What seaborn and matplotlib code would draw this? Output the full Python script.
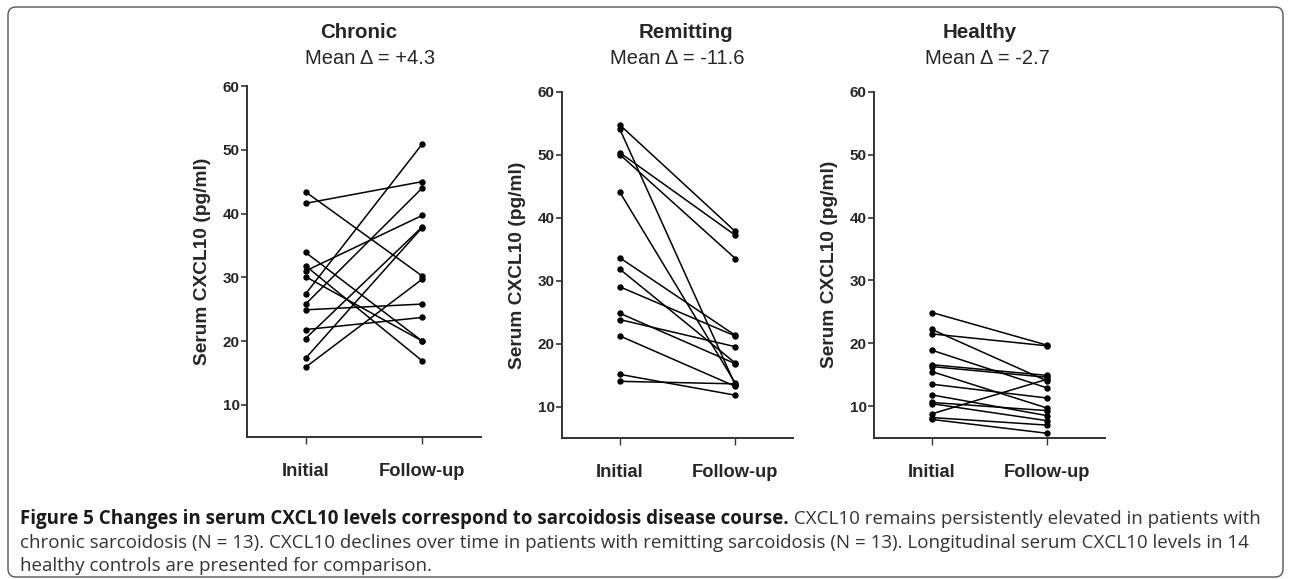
import matplotlib
matplotlib.use("Agg")
import matplotlib.pyplot as plt
from matplotlib.patches import FancyBboxPatch
import seaborn as sns
import pandas as pd

# ---------------- data ----------------
timepoints = ["Initial", "Follow-up"]
groups = ["Chronic", "Remitting", "Healthy"]
mean_deltas = ["Mean \u0394 = +4.3", "Mean \u0394 = -11.6", "Mean \u0394 = -2.7"]
y_ticks = [10, 20, 30, 40, 50, 60]
y_label = "Serum CXCL10 (pg/ml)"

chronic_initial = [43.4, 41.6, 33.9, 31.8, 31.0, 30.1, 27.4, 25.8, 24.9, 21.8, 20.4, 17.3, 15.9]
chronic_followup = [30.2, 45.0, 20.0, 16.9, 39.7, 20.0, 50.9, 44.0, 25.8, 23.7, 37.9, 37.8, 29.7]

remitting_initial = [54.7, 54.0, 50.3, 50.0, 44.0, 33.6, 31.8, 29.0, 24.8, 23.8, 21.2, 15.1, 14.0]
remitting_followup = [37.8, 13.4, 37.2, 33.5, 13.7, 21.3, 16.9, 21.2, 16.8, 19.5, 13.2, 11.8, 13.6]

healthy_initial = [24.9, 22.2, 21.5, 18.9, 16.6, 16.3, 15.5, 13.5, 11.8, 10.6, 10.4, 8.8, 8.2, 7.9]
healthy_followup = [19.7, 14.0, 19.6, 12.9, 14.9, 14.6, 9.7, 11.3, 8.5, 9.3, 7.7, 14.3, 7.0, 5.7]

caption_bold = "Figure 5 Changes in serum CXCL10 levels correspond to sarcoidosis disease course."
caption_line1 = " CXCL10 remains persistently elevated in patients with"
caption_line2 = ("chronic sarcoidosis (N = 13). CXCL10 declines over time in patients with "
                 "remitting sarcoidosis (N = 13). Longitudinal serum CXCL10 levels in 14")
caption_line3 = "healthy controls are presented for comparison."

series = [
    (chronic_initial, chronic_followup),
    (remitting_initial, remitting_followup),
    (healthy_initial, healthy_followup),
]

# ---------------- style ----------------
sns.set_theme(style="ticks")
plt.rcParams["font.family"] = ["Liberation Sans", "DejaVu Sans"]

W, H = 1290, 579
fig = plt.figure(figsize=(W / 100, H / 100), dpi=100)

# axes rectangles in pixels: left, top(60), right, bottom
px_rects = [
    (247.3, 86.0, 480.5, 436.7),
    (562.3, 91.7, 793.0, 438.0),
    (874.3, 91.7, 1105.0, 437.7),
]
title_pos = [(359, 370), (686, 677), (980, 987)]
spine_col = "#333333"

for i, (grp, (ini, fol)) in enumerate(zip(groups, series)):
    l, t, r, b = px_rects[i]
    ax = fig.add_axes([l / W, (H - b) / H, (r - l) / W, (b - t) / H])
    rows = []
    for s, (v0, v1) in enumerate(zip(ini, fol)):
        rows.append({"subject": s, "time": timepoints.index("Initial"), "value": v0})
        rows.append({"subject": s, "time": timepoints.index("Follow-up"), "value": v1})
    df = pd.DataFrame(rows)
    sns.lineplot(data=df, x="time", y="value", units="subject", estimator=None,
                 color="black", linewidth=1.1, marker="o", markersize=4.6,
                 markeredgewidth=0, sort=False, legend=False, ax=ax)
    ax.set_xlim(-0.5, 1.5)
    ax.set_ylim(5, 60)
    ax.set_yticks(y_ticks)
    ax.set_yticklabels([str(v) for v in y_ticks], fontweight="bold", fontsize=11)
    ax.set_xticks(range(len(timepoints)))
    ax.set_xticklabels(timepoints, fontweight="bold", fontsize=13.2)
    ax.set_xlabel("")
    ax.set_ylabel(y_label, fontweight="bold", fontsize=13.8)
    ax.yaxis.set_label_coords(-36 / (r - l), 0.5)
    sns.despine(ax=ax)
    for sp in ("left", "bottom"):
        ax.spines[sp].set_color(spine_col)
        ax.spines[sp].set_linewidth(1.4)
    ax.tick_params(axis="y", length=4, width=1.2, color=spine_col, pad=1.5)
    ax.tick_params(axis="x", length=5, width=1.0, color=spine_col, pad=14)
    ax.set_facecolor("white")

    tx, mx = title_pos[i]
    fig.text(tx / W, 1 - 33 / H, grp, ha="center", va="center",
             fontsize=14.8, fontweight="bold")
    fig.text(mx / W, 1 - 59 / H, mean_deltas[i], ha="center", va="center",
             fontsize=14.5)

# caption (font size fitted so that line 1 spans the reference width)
cap_font = ["Open Sans", "DejaVu Sans"]
x0_px, x_end_px = 20, 1258
renderer = fig.canvas.get_renderer()
probe_b = fig.text(0, 0, caption_bold, fontsize=10, fontweight="bold", family=cap_font)
probe_n = fig.text(0, 0, caption_line1, fontsize=10, family=cap_font)
wtot = (probe_b.get_window_extent(renderer=renderer).width +
        probe_n.get_window_extent(renderer=renderer).width)
probe_b.remove()
probe_n.remove()
cap_size = 10 * (x_end_px - x0_px) / wtot

x0 = x0_px / W
t1 = fig.text(x0, 1 - 519 / H, caption_bold, ha="left", va="center",
              fontsize=cap_size, fontweight="bold", family=cap_font, color="#1a1a1a")
bb = t1.get_window_extent(renderer=renderer)
fig.text(bb.x1 / W, 1 - 519 / H, caption_line1, ha="left", va="center",
         fontsize=cap_size, family=cap_font, color="#333333")
fig.text(x0, 1 - 543 / H, caption_line2, ha="left", va="center",
         fontsize=cap_size, family=cap_font, color="#333333")
fig.text(x0, 1 - 566 / H, caption_line3, ha="left", va="center",
         fontsize=cap_size, family=cap_font, color="#333333")

# frame
frame = FancyBboxPatch((8, 2), 1275, 570, boxstyle="round,pad=0,rounding_size=8",
                       transform=None, fill=False, edgecolor="#555555", linewidth=1.0)
fig.add_artist(frame)

fig.savefig("out.png", dpi=100, facecolor="white")
